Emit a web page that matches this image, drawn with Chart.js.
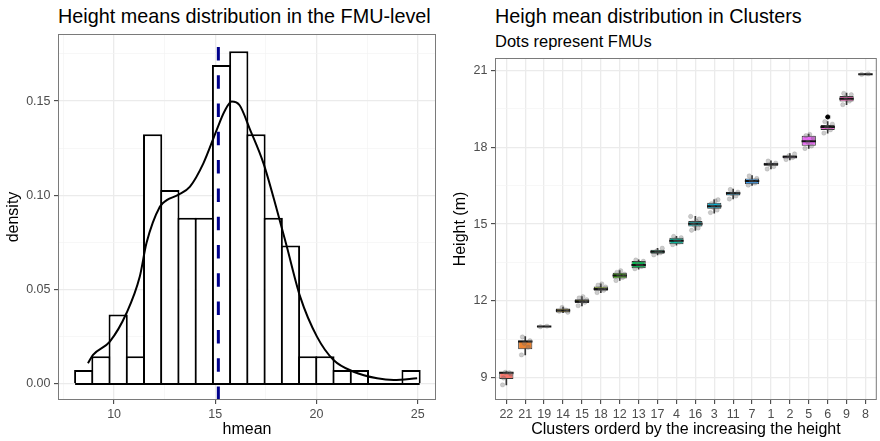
<!DOCTYPE html>
<html>
<head>
<meta charset="utf-8">
<script src="https://cdn.jsdelivr.net/npm/chart.js@4.4.1/dist/chart.umd.min.js"></script>
<style>
  html, body { margin: 0; padding: 0; background: #fff; width: 880px; height: 441px; overflow: hidden; position: relative; }
  canvas { position: absolute; top: 0; }
  .title { position: absolute; font-family: "Liberation Sans", Arial, sans-serif; color: #000; white-space: nowrap; line-height: 1; }
</style>
</head>
<body>
<div class="title" style="left:58px; top:6.5px; font-size:19.8px">Height means distribution in the FMU-level</div>
<canvas id="hist" width="440" height="441" style="left:0"></canvas>
<div class="title" style="left:495px; top:6.5px; font-size:19.8px">Heigh mean distribution in Clusters</div>
<div class="title" style="left:495px; top:33.3px; font-size:16.5px">Dots represent FMUs</div>
<canvas id="box" width="446" height="441" style="left:440px"></canvas>
<script>
// ---- left panel: histogram of hmean ----
const binCenters = [8.500, 9.351, 10.202, 11.053, 11.904, 12.755, 13.606, 14.457, 15.308, 16.159,
                    17.010, 17.861, 18.712, 19.563, 20.414, 21.265, 22.116, 22.967, 23.818, 24.669]
const binDensity = [0.0074, 0.0147, 0.0368, 0.0147, 0.1324, 0.1029, 0.0882, 0.0882, 0.1691, 0.1765,
                    0.1324, 0.0882, 0.0735, 0.0147, 0.0147, 0.0074, 0.0074, 0, 0, 0.0074]
const binLow = 8.075
const binHigh = 25.094
const densityX = [8.71, 8.96, 9.79, 10.61, 11.27, 11.6, 12.26, 12.6, 13.17, 13.75, 14.41, 15.07, 15.45,
                  15.81, 16.2, 16.72, 17.38, 18.04, 18.53, 19.19, 20.02, 20.84, 21.83, 22.99, 23.81, 24.97]
const densityY = [0.011, 0.0154, 0.0225, 0.0375, 0.057, 0.0747, 0.094, 0.0975, 0.1003, 0.1047, 0.117, 0.1348, 0.1445,
                  0.1498, 0.1478, 0.1348, 0.117, 0.0924, 0.0729, 0.0463, 0.0251, 0.0127, 0.0065, 0.003, 0.0021, 0.003]
const meanHeight = 15.15
const histXTicks = [10, 15, 20, 25]
const histYTicks = [0, 0.05, 0.10, 0.15]

// ---- right panel: boxplots per cluster ----
const clusters = ["22", "21", "19", "14", "15", "18", "12", "13", "17", "4",
                  "16", "3", "11", "7", "1", "2", "5", "6", "9", "8"]
const boxLow    = [8.73, 9.90, 11.00, 11.55, 11.81, 12.33, 12.80, 13.24, 13.80, 14.18,
                   14.75, 15.43, 15.98, 16.51, 17.15, 17.50, 17.95, 18.55, 19.66, 20.84]
const boxQ1     = [8.96, 10.12, 11.00, 11.55, 11.92, 12.40, 12.88, 13.28, 13.84, 14.22,
                   14.91, 15.60, 16.12, 16.56, 17.28, 17.56, 18.06, 18.67, 19.78, 20.84]
const boxMedian = [9.20, 10.42, 11.01, 11.63, 11.99, 12.47, 13.00, 13.41, 13.92, 14.35,
                   15.01, 15.70, 16.20, 16.68, 17.34, 17.63, 18.23, 18.79, 19.89, 20.85]
const boxQ3     = [9.22, 10.46, 11.02, 11.71, 12.07, 12.57, 13.10, 13.56, 14.00, 14.47,
                   15.12, 15.83, 16.26, 16.78, 17.39, 17.68, 18.45, 18.87, 20.00, 20.86]
const boxHigh   = [9.25, 10.61, 11.02, 11.76, 12.17, 12.67, 13.19, 13.61, 14.06, 14.52,
                   15.30, 15.95, 16.37, 16.89, 17.47, 17.75, 18.51, 19.00, 20.11, 20.86]
const boxColors = ["#F8766D", "#EA8331", "#D89000", "#C09B00", "#A3A500", "#7CAE00", "#39B600", "#00BB4E", "#00BF7D", "#00C1A3",
                   "#00BFC4", "#00BAE0", "#00B0F6", "#35A2FF", "#9590FF", "#C77CFF", "#E76BF3", "#FA62DB", "#FF62BC", "#FF6C91"]
const fmuDots = [
  [8.73, 9.2, 9.22, 9.15, 9.0],
  [9.9, 10.2, 10.35, 10.45, 10.6],
  [11.0, 11.02],
  [11.6, 11.65, 11.75, 11.56],
  [11.82, 11.95, 12.0, 12.05, 12.12, 12.17],
  [12.33, 12.42, 12.48, 12.55, 12.62, 12.67],
  [12.8, 12.92, 13.0, 13.05, 13.12, 13.18],
  [13.26, 13.35, 13.45, 13.55, 13.6],
  [13.8, 13.88, 13.95, 14.06],
  [14.2, 14.3, 14.4, 14.47, 14.52],
  [14.76, 14.85, 14.95, 15.0, 15.05, 15.12, 15.2, 15.3],
  [15.45, 15.55, 15.65, 15.72, 15.8, 15.9, 15.95],
  [15.98, 16.1, 16.18, 16.25, 16.35],
  [16.52, 16.6, 16.7, 16.78, 16.88],
  [17.15, 17.25, 17.32, 17.38, 17.46],
  [17.52, 17.6, 17.67, 17.74],
  [17.95, 18.05, 18.2, 18.35, 18.45, 18.5],
  [18.55, 18.68, 18.78, 18.9, 19.0, 19.18],
  [19.66, 19.8, 19.95, 20.05, 20.1],
  [20.84, 20.86]
]
const outlierCluster = ["6"]
const outlierValue = [19.18]
const heightTicks = [9, 12, 15, 18, 21]

// spread of the jittered dots inside a cluster column
const jitter = [-0.2, 0.15, -0.05, 0.25, -0.15, 0.05, 0.2, -0.25]

Chart.defaults.font.family = '"Liberation Sans", Arial, sans-serif'
Chart.defaults.color = "#4D4D4D"

// panel frame like theme_bw
const panelBorder = {
  id: "panelBorder",
  afterDraw(chart) {
    const { ctx, chartArea: a } = chart
    ctx.save()
    ctx.strokeStyle = "#7a7a7a"
    ctx.lineWidth = 1
    ctx.strokeRect(a.left + 0.5, a.top + 0.5, a.width - 1, a.height - 1)
    ctx.restore()
  },
}

const near = (list, v) => list.some((m) => Math.abs(m - v) < 1e-6)

// major ticks plus the minor ones half way between (only inside the range)
function withMinors(majors, min, max) {
  const step = majors[1] - majors[0]
  const out = majors.slice()
  for (let i = -1; i < majors.length; i++) {
    const m = majors[0] + (i + 0.5) * step
    if (m > min && m < max) out.push(m)
  }
  return out.sort((a, b) => a - b)
}

function axis({ min, max, majors, minors = true, title, titlePad, fmt, size, offsetTitle }) {
  const all = minors ? withMinors(majors, min, max) : majors
  return {
    type: "linear",
    min,
    max,
    offset: false,
    afterBuildTicks: (s) => { s.ticks = all.map((v) => ({ value: v })) },
    afterFit: (s) => { if (s.isHorizontal()) s.height = size; else s.width = size },
    ticks: {
      autoSkip: false,
      maxRotation: 0,
      padding: 3.5,
      color: "#4D4D4D",
      font: { size: 12.5 },
      callback: (v) => (near(majors, v) ? fmt(v) : ""),
    },
    grid: {
      offset: false,
      tickLength: 4,
      color: (c) => (near(majors, c.tick.value) ? "#EBEBEB" : "#F3F3F3"),
      lineWidth: (c) => (near(majors, c.tick.value) ? 1.3 : 0.7),
      tickColor: (c) => (near(majors, c.tick.value) ? "#333333" : "rgba(0,0,0,0)"),
      tickWidth: 1,
    },
    border: { display: false },
    title: { display: true, text: title, color: "#000", font: { size: 16 }, padding: titlePad },
  }
}

// ---------- histogram ----------
const histYMin = -0.0085
const histYMax = 0.1856

new Chart(document.getElementById("hist").getContext("2d"), {
  type: "bar",
  data: {
    datasets: [
      {
        type: "bar",
        data: binCenters.map((x, i) => ({ x, y: binDensity[i] })),
        backgroundColor: "#FFFFFF",
        borderColor: "#000000",
        borderWidth: 2,
        barPercentage: 1.116,
        categoryPercentage: 1,
        order: 4,
      },
      {
        type: "line",
        data: [{ x: binLow, y: 0 }, { x: binHigh, y: 0 }],
        borderColor: "#000000",
        borderWidth: 2,
        pointRadius: 0,
        order: 3,
      },
      {
        type: "line",
        data: densityX.map((x, i) => ({ x, y: densityY[i] })),
        borderColor: "#000000",
        borderWidth: 2,
        pointRadius: 0,
        cubicInterpolationMode: "monotone",
        order: 2,
      },
      {
        type: "line",
        data: [{ x: meanHeight, y: histYMin }, { x: meanHeight, y: histYMax }],
        borderColor: "#00008B",
        borderWidth: 3,
        borderDash: [13.5, 14.8],
        pointRadius: 0,
        order: 1,
      },
    ],
  },
  options: {
    responsive: false,
    animation: false,
    layout: { padding: { top: 34, right: 4 } },
    plugins: { legend: { display: false }, tooltip: { enabled: false } },
    scales: {
      x: axis({ min: 7.23, max: 25.9, majors: histXTicks, title: "hmean", titlePad: { bottom: 1.4 },
                fmt: (v) => String(v), size: 41 }),
      y: axis({ min: histYMin, max: histYMax, majors: histYTicks, title: "density", titlePad: { top: 4.4 },
                fmt: (v) => v.toFixed(2), size: 58 }),
    },
  },
  plugins: [panelBorder],
})

// ---------- boxplots ----------
const dotPoints = []
fmuDots.forEach((vals, i) => {
  vals.forEach((v, k) => dotPoints.push({ x: i + jitter[k % jitter.length], y: v }))
})

new Chart(document.getElementById("box").getContext("2d"), {
  type: "bar",
  data: {
    datasets: [
      {
        type: "bar",
        data: clusters.map((c, i) => ({ x: i, y: [boxLow[i], boxHigh[i]] })),
        backgroundColor: "#333333",
        barThickness: 1,
        grouped: false,
        order: 5,
      },
      {
        type: "bar",
        data: clusters.map((c, i) => ({ x: i, y: [boxQ1[i], boxQ3[i]] })),
        backgroundColor: boxColors,
        borderColor: "#333333",
        borderWidth: 1,
        borderSkipped: false,
        barPercentage: 0.75,
        categoryPercentage: 1,
        grouped: false,
        order: 4,
      },
      {
        type: "scatter",
        data: clusters.map((c, i) => ({ x: i, y: boxMedian[i] })),
        pointStyle: "line",
        pointRadius: 7.2,
        borderColor: "#111111",
        pointBorderColor: "#111111",
        pointBorderWidth: 2,
        order: 3,
      },
      {
        type: "scatter",
        data: dotPoints,
        pointRadius: 2.2,
        backgroundColor: "rgba(110,110,110,0.35)",
        borderColor: "rgba(90,90,90,0.35)",
        borderWidth: 0.5,
        order: 2,
      },
      {
        type: "scatter",
        data: outlierCluster.map((c, k) => ({ x: clusters.indexOf(c), y: outlierValue[k] })),
        pointRadius: 2,
        backgroundColor: "#000000",
        borderColor: "#000000",
        order: 1,
      },
    ],
  },
  options: {
    responsive: false,
    animation: false,
    layout: { padding: { top: 58, right: 3 } },
    plugins: { legend: { display: false }, tooltip: { enabled: false } },
    scales: {
      x: axis({ min: -0.6, max: 19.6, majors: clusters.map((c, i) => i), minors: false,
                title: "Clusters orderd by the increasing the height", titlePad: { bottom: 1.4 },
                fmt: (v) => clusters[Math.round(v)], size: 41 }),
      y: axis({ min: 8.14, max: 21.48, majors: heightTicks, title: "Height (m)", titlePad: { top: 11.2 },
                fmt: (v) => String(v), size: 55 }),
    },
  },
  plugins: [panelBorder],
})
</script>
</body>
</html>
